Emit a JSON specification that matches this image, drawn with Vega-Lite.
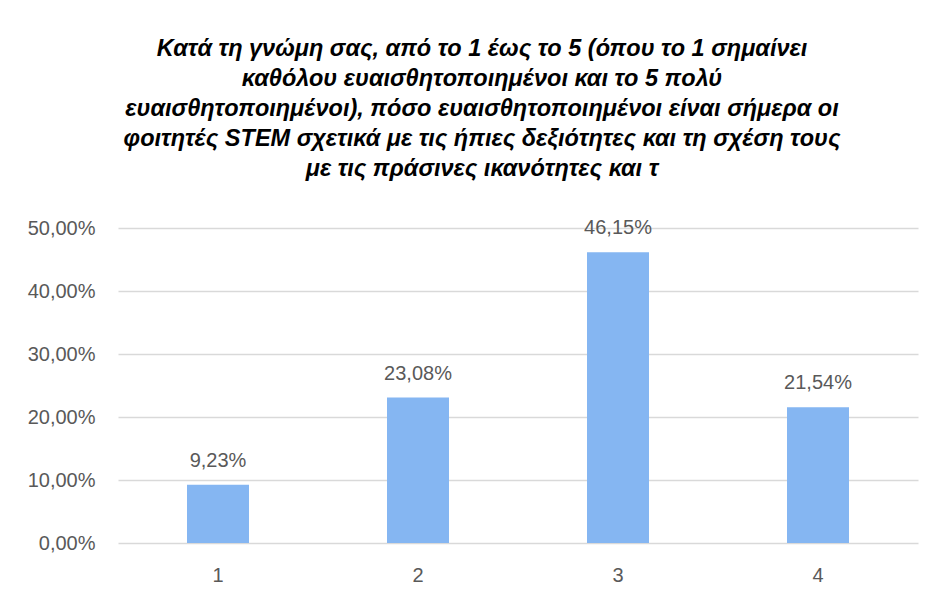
{
  "$schema": "https://vega.github.io/schema/vega-lite/v6.json",
  "width": 934,
  "height": 599,
  "autosize": {"type": "fit", "contains": "padding"},
  "padding": {"left": 8, "right": 16, "top": 36, "bottom": 12},
  "background": "white",
  "config": {
    "locale": {"number": {"decimal": ",", "thousands": ".", "grouping": [3], "currency": ["", " €"]}},
    "view": {"stroke": null},
    "font": "Liberation Sans"
  },
  "title": {
    "text": [
      "Κατά τη γνώμη σας, από το 1 έως το 5 (όπου το 1 σημαίνει",
      "καθόλου ευαισθητοποιημένοι και το 5 πολύ",
      "ευαισθητοποιημένοι), πόσο ευαισθητοποιημένοι είναι σήμερα οι",
      "φοιτητές STEM σχετικά με τις ήπιες δεξιότητες και τη σχέση τους",
      "με τις πράσινες ικανότητες και τ"
    ],
    "font": "Liberation Sans Narrow, Liberation Sans",
    "fontSize": 23.5,
    "fontWeight": "bold",
    "fontStyle": "italic",
    "color": "#000000",
    "lineHeight": 30,
    "anchor": "middle",
    "frame": "group",
    "dx": -36,
    "offset": 38
  },
  "data": {
    "values": [
      {"category": "1", "value": 0.0923},
      {"category": "2", "value": 0.2308},
      {"category": "3", "value": 0.4615},
      {"category": "4", "value": 0.2154}
    ]
  },
  "encoding": {
    "x": {
      "field": "category",
      "type": "nominal",
      "sort": null,
      "scale": {"paddingInner": 0.69, "paddingOuter": 0.345},
      "axis": {
        "title": null,
        "labelAngle": 0,
        "labelFontSize": 20,
        "labelColor": "#595959",
        "labelPadding": 22,
        "ticks": false,
        "domain": false,
        "minExtent": 44,
        "maxExtent": 44
      }
    },
    "y": {
      "field": "value",
      "type": "quantitative",
      "scale": {"domain": [0, 0.5], "nice": false},
      "axis": {
        "title": null,
        "format": ".2%",
        "values": [0, 0.1, 0.2, 0.3, 0.4, 0.5],
        "labelFontSize": 20,
        "labelColor": "#595959",
        "labelPadding": 23,
        "ticks": false,
        "domain": false,
        "gridColor": "#D9D9D9",
        "gridWidth": 1.3,
        "minExtent": 110,
        "maxExtent": 110
      }
    }
  },
  "layer": [
    {"mark": {"type": "bar", "color": "#85B6F2"}},
    {
      "mark": {"type": "text", "dy": -14, "fontSize": 20, "color": "#595959", "baseline": "bottom"},
      "encoding": {"text": {"field": "value", "type": "quantitative", "format": ".2%"}}
    }
  ]
}
